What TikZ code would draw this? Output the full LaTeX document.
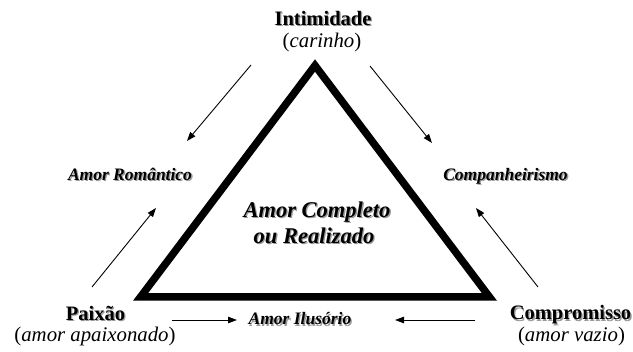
\documentclass[tikz,border=0pt]{standalone}
\usepackage{fontspec}
\setmainfont{Liberation Serif}
\usetikzlibrary{arrows.meta}
\newcommand\shd[1]{\leavevmode\rlap{\kern1.3pt\raisebox{-1.3pt}{\textcolor{black!40}{#1}}}#1}
\begin{document}
\begin{tikzpicture}[x=1pt,y=-1pt,
  lbl/.style={inner sep=0pt,anchor=base},
  vertex/.style={lbl,font=\fontsize{20.5}{24}\selectfont\bfseries},
  sub/.style={lbl,font=\fontsize{20.8}{24}\selectfont},
  side/.style={lbl,font=\fontsize{17.5}{20}\selectfont\bfseries\itshape},
  centre/.style={lbl,font=\fontsize{22.5}{26}\selectfont\bfseries\itshape},
  tri/.style={line width=7.5pt,line join=miter},
  arr/.style={line width=0.9pt,-{Triangle[length=9pt,width=6.5pt]}}]
\useasboundingbox (0,0) rectangle (633,352);
\fill[white] (0,0) rectangle (633,352);
% triangle
\coordinate (A) at (315,65.5);
\coordinate (B) at (140.5,297);
\coordinate (C) at (489.5,297);
\draw[tri] (A) -- (B) -- (C) -- cycle;
% labels
\node[vertex] (int) at (323,25.5) {\shd{Intimidade}};
\node[sub] (intsub) at (322,48) {(\textit{carinho})};
\node[vertex] (pai) at (95.5,320.5) {\shd{Paixão}};
\node[sub] (paisub) at (95,341.5) {(\textit{amor apaixonado})};
\node[vertex] (com) at (570.5,320) {\shd{Compromisso}};
\node[sub] (comsub) at (571.5,341.5) {(\textit{amor vazio})};
\node[side] (rom) at (130,180.7) {\shd{Amor Romântico}};
\node[side] (cmp) at (505.5,180.7) {\shd{Companheirismo}};
\node[side] (ilu) at (300,325) {\shd{Amor Ilusório}};
\node[centre] (cl1) at (317,217.3) {\shd{Amor Completo}};
\node[centre] (cl2) at (314,243.3) {\shd{ou Realizado}};
% arrow end points
\coordinate (a1s) at (251,65);  \coordinate (a1e) at (187,141);
\coordinate (a2s) at (370,66);  \coordinate (a2e) at (432,143);
\coordinate (a3s) at (92,287);  \coordinate (a3e) at (156,208);
\coordinate (a4s) at (538,287); \coordinate (a4e) at (476,208);
\coordinate (a5s) at (172,320); \coordinate (a5e) at (237,320);
\coordinate (a6s) at (475,320); \coordinate (a6e) at (395,320);
\draw[arr] (a1s) -- (a1e);
\draw[arr] (a2s) -- (a2e);
\draw[arr] (a3s) -- (a3e);
\draw[arr] (a4s) -- (a4e);
\draw[arr] (a5s) -- (a5e);
\draw[arr] (a6s) -- (a6e);
\end{tikzpicture}
\end{document}
